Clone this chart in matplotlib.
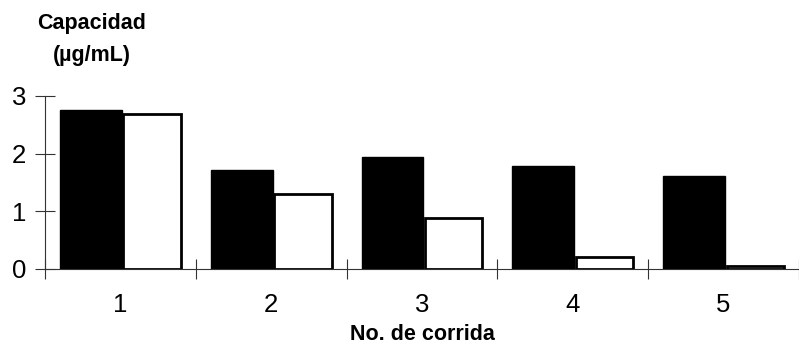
import matplotlib
matplotlib.use("Agg")
import matplotlib.pyplot as plt
import numpy as np

plt.rcParams.update({
    "font.family": ["Liberation Sans", "DejaVu Sans"],
})

runs = ["1", "2", "3", "4", "5"]
capacity_dark = [2.76, 1.71, 1.95, 1.79, 1.62]
capacity_open = [2.68, 1.30, 0.89, 0.20, 0.06]
y_ticks = [0, 1, 2, 3]

fig = plt.figure(figsize=(7.99, 3.47), dpi=100)
ax = fig.add_axes([0.0563, 0.2248, 0.9437, 0.4986])

x = np.arange(len(runs))
w = 0.41
ax.bar(x - 0.195, capacity_dark, width=w, color="black", edgecolor="black", lw=1.0)
ax.bar(x + 0.21, capacity_open, width=w * 0.93, color="white", edgecolor="black", lw=2.0)

ax.set_xlim(-0.5, len(runs) - 0.5)
ax.set_ylim(0, 3)
ax.set_yticks(y_ticks)
ax.set_yticklabels([str(v) for v in y_ticks], fontsize=18.5)
ax.set_xticks(x)
ax.set_xticklabels(runs, fontsize=18.5)
ax.tick_params(axis="x", length=0, pad=17)
ax.set_xticks(np.arange(len(runs) + 1) - 0.5, minor=True)
ax.tick_params(axis="x", which="minor", direction="inout", length=15, width=0.8, color="#333333")
ax.tick_params(axis="y", direction="inout", length=15, width=0.8, color="#333333", pad=6)

for side in ["top", "right"]:
    ax.spines[side].set_visible(False)
for side in ["left", "bottom"]:
    ax.spines[side].set_linewidth(0.8)
    ax.spines[side].set_color("#333333")

fig.text(92 / 799, 1 - 29 / 347, "Capacidad", ha="center", va="baseline",
         fontsize=15.5, fontweight="bold")
fig.text(92 / 799, 1 - 61 / 347, "(µg/mL)", ha="center", va="baseline",
         fontsize=15.5, fontweight="bold")
fig.text(422 / 799, 2 / 347, "No. de corrida", ha="center", va="bottom",
         fontsize=15.5, fontweight="bold")

fig.savefig("out.png", dpi=100)
